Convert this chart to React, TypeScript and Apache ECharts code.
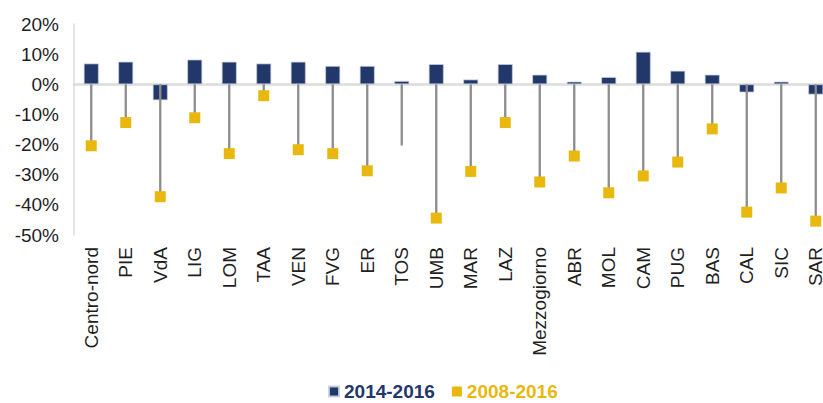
import React, { useEffect, useRef } from "react";
import * as echarts from "echarts";

const categories = [
  "Centro-nord", "PIE", "VdA", "LIG", "LOM", "TAA", "VEN", "FVG", "ER", "TOS", "UMB",
  "MAR", "LAZ", "Mezzogiorno", "ABR", "MOL", "CAM", "PUG", "BAS", "CAL", "SIC", "SAR",
];
const change2014_2016 = [
  6.9, 7.5, -5.3, 8.2, 7.5, 6.9, 7.5, 6.1, 6.1, 1.1, 6.7,
  1.6, 6.7, 3.2, 0.9, 2.4, 10.8, 4.5, 3.2, -2.7, 0.9, -3.4,
];
const change2008_2016 = [
  -20.4, -12.7, -37.3, -11.1, -23.0, -3.8, -21.7, -23.0, -28.7, -20.3, -44.4,
  -28.9, -12.7, -32.4, -23.8, -36.0, -30.4, -25.8, -14.8, -42.4, -34.4, -45.4,
];
const categoriesWithoutMarker = ["TOS"];
const yTicks = { min: -50, max: 20, interval: 10 };
const seriesNames = ["2014-2016", "2008-2016"];

const BLUE = "#22376a";
const YELLOW = "#e9b80e";
const GRAY = "#8c8c8c";
const FONT = "'Liberation Sans', Arial, Helvetica, sans-serif";

export default function App() {
  const ref = useRef<HTMLDivElement>(null);
  useEffect(() => {
    if (!ref.current) return;
    const chart = echarts.init(ref.current, null, { renderer: "svg" });
    const lineData = categories.map((_, i) => [i, change2008_2016[i]]);
    const scatterData = categories.map((c, i) => ({
      value: [i, change2008_2016[i]],
      itemStyle: categoriesWithoutMarker.includes(c) ? { opacity: 0 } : undefined,
    }));
    chart.setOption({
      animation: false,
      textStyle: { fontFamily: FONT },
      grid: { left: 74, top: 24, width: 759, height: 211, containLabel: false },
      legend: {
        data: [
          { name: seriesNames[0], textStyle: { color: BLUE } },
          { name: seriesNames[1], textStyle: { color: YELLOW } },
        ],
        left: 328,
        top: 382,
        padding: 0,
        icon: "rect",
        itemWidth: 10,
        itemHeight: 10,
        itemGap: 17,
        textStyle: { fontSize: 19, fontWeight: "bold", fontFamily: FONT },
      },
      xAxis: {
        type: "category",
        data: categories,
        axisLine: { onZero: true, lineStyle: { color: "#dcdcdc", width: 2.5 } },
        axisTick: { show: false },
        axisLabel: {
          rotate: 90,
          interval: 0,
          margin: 12,
          fontSize: 19,
          color: "#1f1f1f",
          fontFamily: FONT,
        },
      },
      yAxis: {
        type: "value",
        min: yTicks.min,
        max: yTicks.max,
        interval: yTicks.interval,
        axisLine: { show: true, lineStyle: { color: "#dcdcdc", width: 1.5 } },
        axisTick: { show: false },
        splitLine: { show: false },
        axisLabel: {
          formatter: "{value}%",
          fontSize: 19,
          color: "#1f1f1f",
          margin: 15,
          padding: [5, 0, 0, 0],
          fontFamily: FONT,
        },
      },
      series: [
        {
          name: seriesNames[0],
          type: "bar",
          data: change2014_2016,
          barWidth: 15,
          itemStyle: { color: BLUE, borderColor: "rgba(200,208,225,0.9)", borderWidth: 0.8 },
          z: 2,
        },
        {
          name: "connector",
          type: "custom",
          data: lineData,
          encode: { x: 0, y: 1 },
          z: 3,
          renderItem: (_params: any, api: any) => {
            const idx = api.value(0);
            const v = api.value(1);
            const p0 = api.coord([idx, 0]);
            const p1 = api.coord([idx, v]);
            return {
              type: "line",
              shape: { x1: p0[0], y1: p0[1], x2: p1[0], y2: p1[1] },
              style: { stroke: GRAY, lineWidth: 2.3 },
            };
          },
        },
        {
          name: seriesNames[1],
          type: "scatter",
          data: scatterData,
          symbol: "rect",
          symbolSize: 11,
          itemStyle: { color: YELLOW, opacity: 1 },
          z: 4,
        },
      ],
    });
    return () => chart.dispose();
  }, []);
  return (
    <div
      style={{
        position: "fixed",
        left: 0,
        top: 0,
        width: 823,
        height: 403,
        overflow: "hidden",
        background: "#fff",
      }}
    >
      <div ref={ref} style={{ width: 860, height: 403 }} />
    </div>
  );
}
